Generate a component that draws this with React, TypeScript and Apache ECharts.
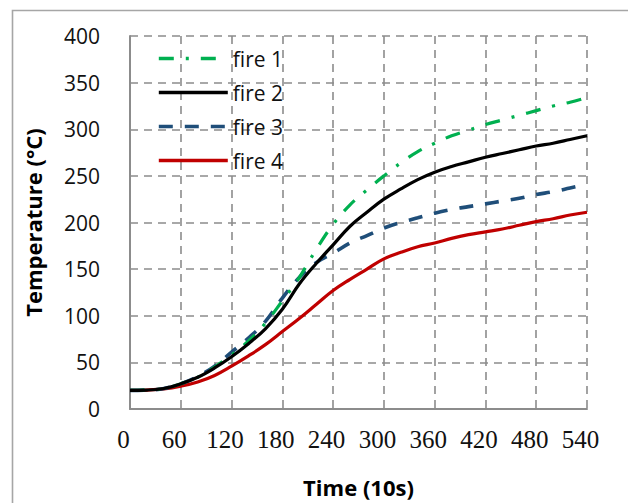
import React, { useEffect, useRef } from "react";
import * as echarts from "echarts";

// Time axis (units of 10 s)
const time = [0, 20, 40, 60, 80, 100, 120, 140, 160, 180, 200, 220, 240, 260, 280, 300, 320, 340, 360, 380, 400, 420, 440, 460, 480, 500, 520, 540];

// Measured temperatures (°C)
const fire1 = [20, 20.3, 22, 27, 34, 45, 58, 73, 92, 116, 141, 171, 198, 219, 235, 250, 264, 276, 285, 293, 299, 305, 310, 315, 320, 325, 329, 334];
const fire2 = [20, 20.3, 22, 27, 34, 44, 56, 70, 86, 107, 134, 156, 176, 196, 211, 225, 236, 246, 254, 260, 265, 270, 274, 278, 282, 285, 289, 293];
const fire3 = [20, 20.3, 22, 27, 35, 46, 61, 76, 94, 119, 141, 157, 167, 178, 186, 194, 200, 205, 210, 214, 217, 220, 223, 226, 230, 233, 237, 241];
const fire4 = [20, 20.3, 21.5, 24.5, 29, 36, 46, 57, 69, 83, 97, 112, 127, 139, 150, 161, 168, 174, 178, 183, 187, 190, 193, 197, 201, 204, 208, 211];

const xTicks = [0, 60, 120, 180, 240, 300, 360, 420, 480, 540];
const yTicks = [0, 50, 100, 150, 200, 250, 300, 350, 400];

const seriesNames = ["fire 1", "fire 2", "fire 3", "fire 4"];

const pairs = (vals: number[]) => time.map((t, i) => [t, vals[i]]);

const SANS = "'Open Sans', 'Noto Sans', sans-serif";
const SERIF = "'Liberation Serif', 'DejaVu Serif', serif";

export default function App() {
  const ref = useRef<HTMLDivElement>(null);

  useEffect(() => {
    if (!ref.current) return;
    const chart = echarts.init(ref.current, null, { renderer: "svg" });
    const grid = "#8c8c8c";

    chart.setOption({
      animation: false,
      backgroundColor: "#ffffff",
      graphic: [
        {
          type: "rect",
          shape: { x: 12.5, y: 10.5, width: 700, height: 600 },
          style: { fill: "none", stroke: "#a6a6a6", lineWidth: 1.6 },
          silent: true,
          z: 0,
        },
      ],
      grid: { left: 130, top: 36, right: 41, bottom: 94 },
      legend: {
        orient: "vertical",
        left: 157,
        top: 48,
        padding: 0,
        itemWidth: 69,
        itemHeight: 21,
        itemGap: 13,
        data: seriesNames,
        // legend keys show only the line, no marker
        itemStyle: { opacity: 0 },
        lineStyle: { width: 3.6 },
        textStyle: { fontFamily: SANS, fontSize: 21, color: "#111", lineHeight: 21 },
      },
      xAxis: {
        type: "value",
        min: 0,
        max: 540,
        interval: 60,
        name: "Time (10s)",
        nameLocation: "middle",
        nameGap: 67,
        nameTextStyle: { fontFamily: SANS, fontSize: 22, fontWeight: "bold", color: "#000" },
        axisLine: { show: true, lineStyle: { color: grid, width: 2 } },
        axisTick: { show: false },
        axisLabel: {
          fontFamily: SERIF,
          fontSize: 25,
          color: "#111",
          margin: 18,
          padding: [0, 13, 0, 0],
          formatter: (v: number) => (xTicks.includes(v) ? String(v) : ""),
        },
        splitLine: { show: true, lineStyle: { color: grid, width: 1.6, type: [8, 6] } },
      },
      yAxis: {
        type: "value",
        min: 0,
        max: 400,
        interval: 50,
        name: "Temperature (°C)",
        nameLocation: "middle",
        nameGap: 86,
        nameTextStyle: { fontFamily: SANS, fontSize: 22, fontWeight: "bold", color: "#000" },
        axisLine: { show: true, lineStyle: { color: grid, width: 2 } },
        axisTick: { show: false },
        axisLabel: {
          fontFamily: SANS,
          fontSize: 21,
          color: "#111",
          margin: 30,
          formatter: (v: number) => (yTicks.includes(v) ? String(v) : ""),
        },
        splitLine: { show: true, lineStyle: { color: grid, width: 1.6, type: [8, 6] } },
      },
      series: [
        {
          name: "fire 1",
          type: "line",
          data: pairs(fire1),
          smooth: 0.4,
          showSymbol: false,
          lineStyle: { color: "#00b050", width: 3.2, type: [15, 12, 3, 12] },
          itemStyle: { color: "#00b050" },
          z: 4,
        },
        {
          name: "fire 2",
          type: "line",
          data: pairs(fire2),
          smooth: 0.4,
          showSymbol: false,
          lineStyle: { color: "#000000", width: 3.2 },
          itemStyle: { color: "#000000" },
          z: 5,
        },
        {
          name: "fire 3",
          type: "line",
          data: pairs(fire3),
          smooth: 0.4,
          showSymbol: false,
          lineStyle: { color: "#1f4e79", width: 3.6, type: [14, 12] },
          itemStyle: { color: "#1f4e79" },
          z: 3,
        },
        {
          name: "fire 4",
          type: "line",
          data: pairs(fire4),
          smooth: 0.4,
          showSymbol: false,
          lineStyle: { color: "#c00000", width: 3.2 },
          itemStyle: { color: "#c00000" },
          z: 2,
        },
      ],
    });

    return () => chart.dispose();
  }, []);

  return (
    <div
      ref={ref}
      style={{ position: "fixed", left: 0, top: 0, width: 628, height: 503 }}
    />
  );
}
